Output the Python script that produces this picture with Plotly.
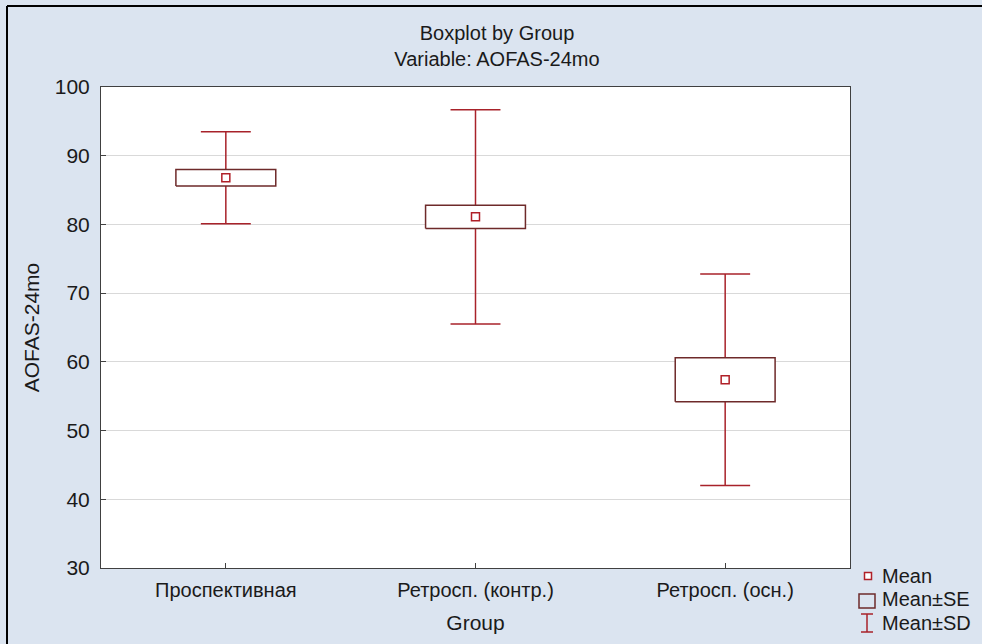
import plotly.graph_objects as go

# Group summary statistics for AOFAS-24mo
groups = ["Проспективная", "Ретросп. (контр.)", "Ретросп. (осн.)"]
means = [86.8, 81.1, 57.4]
se = [1.2, 1.7, 3.2]
sd = [6.7, 15.6, 15.4]
y_ticks = [30, 40, 50, 60, 70, 80, 90, 100]

BOX_HALF = 0.2
CAP_HALF = 0.1
WHISKER_COLOR = "#a8222a"
BOX_COLOR = "#6e2a2a"
MEAN_COLOR = "#b02028"
TEXT_COLOR = "#1a1a1a"
FONT = "Arial, Liberation Sans, sans-serif"

box_x, box_y = [], []
wh_x, wh_y = [], []
for i, (m, e, s) in enumerate(zip(means, se, sd)):
    lo, hi = m - e, m + e
    box_x += [i - BOX_HALF, i + BOX_HALF, i + BOX_HALF, i - BOX_HALF, i - BOX_HALF, None]
    box_y += [lo, lo, hi, hi, lo, None]
    # upper whisker and cap
    wh_x += [i, i, None, i - CAP_HALF, i + CAP_HALF, None]
    wh_y += [hi, m + s, None, m + s, m + s, None]
    # lower whisker and cap
    wh_x += [i, i, None, i - CAP_HALF, i + CAP_HALF, None]
    wh_y += [lo, m - s, None, m - s, m - s, None]

fig = go.Figure()
fig.add_trace(go.Scatter(x=wh_x, y=wh_y, mode="lines",
                         line=dict(color=WHISKER_COLOR, width=1.5),
                         hoverinfo="skip", showlegend=False))
fig.add_trace(go.Scatter(x=box_x, y=box_y, mode="lines",
                         line=dict(color=BOX_COLOR, width=1.5),
                         fill="toself", fillcolor="white",
                         hoverinfo="skip", showlegend=False))
fig.add_trace(go.Scatter(x=list(range(len(groups))), y=means, mode="markers",
                         marker=dict(symbol="square", size=8, color="white",
                                     line=dict(color=MEAN_COLOR, width=1.5)),
                         showlegend=False))

# plot-area geometry helpers (pixel -> paper)
W, H = 982, 644
L, R, T, B = 101, 850, 87, 568


def px(x):
    return (x - L) / (R - L)


def py(y):
    return (B - y) / (B - T)


shapes = [
    # outer frame (left and top edges)
    dict(type="line", xref="paper", yref="paper", x0=px(7), x1=px(7),
         y0=py(H), y1=py(6), line=dict(color="black", width=2)),
    dict(type="line", xref="paper", yref="paper", x0=px(7), x1=px(W),
         y0=py(6), y1=py(6), line=dict(color="black", width=2)),
    # legend symbols
    dict(type="rect", xref="paper", yref="paper", x0=px(864.5), x1=px(871.5),
         y0=py(579.5), y1=py(572.5), line=dict(color=MEAN_COLOR, width=1.5),
         fillcolor="white"),
    dict(type="rect", xref="paper", yref="paper", x0=px(859), x1=px(875),
         y0=py(608), y1=py(594), line=dict(color=BOX_COLOR, width=1.5)),
    dict(type="line", xref="paper", yref="paper", x0=px(867), x1=px(867),
         y0=py(632), y1=py(614), line=dict(color=WHISKER_COLOR, width=1.5)),
    dict(type="line", xref="paper", yref="paper", x0=px(861), x1=px(873),
         y0=py(614), y1=py(614), line=dict(color=WHISKER_COLOR, width=1.5)),
    dict(type="line", xref="paper", yref="paper", x0=px(861), x1=px(873),
         y0=py(632), y1=py(632), line=dict(color=WHISKER_COLOR, width=1.5)),
]

legend_labels = ["Mean", "Mean±SE", "Mean±SD"]
legend_y = [576, 599, 623]
annotations = [
    dict(text=t, x=px(880), y=py(yy), xref="paper", yref="paper",
         xanchor="left", yanchor="middle", showarrow=False,
         font=dict(family=FONT, size=20, color=TEXT_COLOR))
    for t, yy in zip(legend_labels, legend_y)
]

fig.update_layout(
    width=W, height=H,
    margin=dict(l=L, r=W - R, t=T, b=H - B),
    paper_bgcolor="#dbe4f0",
    plot_bgcolor="white",
    font=dict(family=FONT, size=20, color=TEXT_COLOR),
    title=dict(text="Boxplot by Group<br>Variable: AOFAS-24mo",
               x=497 / W, xref="container", xanchor="center",
               y=1 - 40 / H, yref="container", yanchor="middle",
               font=dict(family=FONT, size=20, color=TEXT_COLOR)),
    shapes=shapes,
    annotations=annotations,
    showlegend=False,
)
fig.update_xaxes(
    range=[-0.5, len(groups) - 0.5],
    tickvals=list(range(len(groups))), ticktext=groups,
    ticks="inside", ticklen=5, tickcolor="#404040",
    showgrid=False, zeroline=False,
    showline=True, mirror=True, linecolor="#404040", linewidth=1,
    ticklabelstandoff=4,
    title=dict(text="Group", standoff=15, font=dict(family=FONT, size=21)),
    tickfont=dict(family=FONT, size=20),
)
fig.update_yaxes(
    range=[30, 100], tickvals=y_ticks,
    ticks="inside", ticklen=5, tickcolor="#404040",
    showgrid=True, gridcolor="#d9d9d9", gridwidth=1,
    zeroline=False,
    showline=True, mirror=True, linecolor="#404040", linewidth=1,
    ticklabelstandoff=6,
    title=dict(text="AOFAS-24mo", standoff=9, font=dict(family=FONT, size=21)),
    tickfont=dict(family=FONT, size=21),
)

# keep the page exactly figure-sized (no scrollbars)
page_style = (
    "document.documentElement.style.margin='0';"
    "document.documentElement.style.overflow='hidden';"
    "document.body.style.margin='0';"
    "document.body.style.overflow='hidden';"
)
fig.write_html("out.html", config={"displayModeBar": False}, post_script=page_style)
